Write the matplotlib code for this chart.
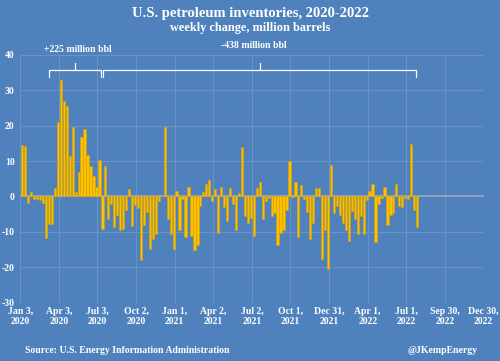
import matplotlib
matplotlib.use('Agg')
import matplotlib.pyplot as plt
import matplotlib.dates as mdates
import pandas as pd

plt.rcParams['axes.unicode_minus'] = False

# weekly change in U.S. petroleum inventories, million barrels (week ending Fridays)
first_week = '2020-01-03'
weekly_change = [
    14.6, 14.3, -1.7, 1.2, -0.7, -0.8, -1.1, -1.9, -11.7, -7.7,
    -7.7, 2.3, 21.0, 32.9, 27.0, 25.4, 11.5, 19.5, 1.2, 6.9,
    16.9, 19.1, 11.7, 8.7, 5.8, 2.8, 10.3, -9.1, 8.7, -6.4,
    -2.2, -8.5, -5.2, -9.5, -9.1, -3.8, 2.1, -8.3, -2.3, -3.1,
    -18.0, -8.0, -4.5, -14.8, -12.0, -10.6, -1.2, 0.0, 19.7, -6.3,
    -10.6, -14.8, 1.6, -9.4, -0.6, -11.5, 2.6, -11.2, -15.2, -13.8,
    -2.8, 1.2, 3.6, 4.6, -1.2, 2.2, -10.2, 2.7, -3.0, -6.8,
    2.4, -2.1, -9.4, 1.1, 13.9, -5.6, -7.5, -6.1, -11.1, 2.3,
    4.2, -6.4, -1.4, -0.3, -5.5, -4.7, -13.6, -10.3, -9.3, -3.7,
    10.0, -0.2, 4.1, -11.4, 3.2, -0.8, -4.3, -12.1, -7.4, 2.3,
    2.4, -17.7, -9.3, -20.3, 8.8, -4.7, -2.7, -5.1, -7.6, -9.5,
    -12.4, -4.2, -6.2, -10.5, -5.5, -10.7, -1.0, 1.5, 3.4, -12.8,
    -2.2, -0.4, 2.7, -7.9, -5.3, -4.6, 3.6, -2.7, -3.0, -0.4,
    -0.6, 14.8, -3.8, -8.7,
]

tick_dates = ['2020-01-03', '2020-04-03', '2020-07-03', '2020-10-02',
              '2021-01-01', '2021-04-02', '2021-07-02', '2021-10-01',
              '2021-12-31', '2022-04-01', '2022-07-01', '2022-09-30',
              '2022-12-30']
tick_labels = ['Jan 3,\n2020', 'Apr 3,\n2020', 'Jul 3,\n2020', 'Oct 2,\n2020',
               'Jan 1,\n2021', 'Apr 2,\n2021', 'Jul 2,\n2021', 'Oct 1,\n2021',
               'Dec 31,\n2021', 'Apr 1,\n2022', 'Jul 1,\n2022', 'Sep 30,\n2022',
               'Dec 30,\n2022']

BG = '#4f81bd'
BAR = '#ffc000'
GRID = '#6d93c6'
FONT = 'Liberation Serif'

weeks = pd.date_range(first_week, periods=len(weekly_change), freq='7D')
xpos = mdates.date2num(weeks) + 4.5

fig = plt.figure(figsize=(5.0, 3.61), dpi=100, facecolor=BG)
ax = fig.add_axes([0.0406, 0.1607, 0.9264, 0.6883])
ax.set_facecolor(BG)

ax.bar(xpos, weekly_change, width=5.3, color=BAR, edgecolor='#d8a300',
       linewidth=0.4, zorder=3)
ax.axhline(0, color='#97a3b3', linewidth=1.4, zorder=2)

ax.set_ylim(-30, 40)
ax.set_yticks(range(-30, 41, 10))
ax.set_xlim(mdates.datestr2num(tick_dates[0]), mdates.datestr2num(tick_dates[-1]))
ax.set_xticks([mdates.datestr2num(d) for d in tick_dates])
ax.set_xticklabels(tick_labels)

ax.grid(True, color=GRID, linewidth=0.7, zorder=0)
for s in ax.spines.values():
    s.set_visible(False)
ax.tick_params(length=0, colors='white', labelsize=7, pad=3)
ax.tick_params(axis='y', pad=4)
for lab in ax.get_xticklabels() + ax.get_yticklabels():
    lab.set_fontfamily(FONT)
    lab.set_fontweight('bold')
    lab.set_linespacing(1.1)

# brackets over the two periods
def bracket(x0, x1, xm, y=35.6, drop=1.9, rise=2.0):
    kw = dict(color='white', linewidth=0.9, clip_on=False, zorder=4,
              solid_capstyle='round')
    x0, x1, xm = (mdates.datestr2num(v) for v in (x0, x1, xm))
    ax.plot([x0, x0, x1, x1], [y - drop, y, y, y - drop], **kw)
    ax.plot([xm, xm], [y, y + rise], **kw)

bracket('2020-03-11', '2020-07-11', '2020-05-10')
bracket('2020-07-15', '2022-07-24', '2021-07-21')

fig.text(0.155, 0.862, '+225 million bbl', ha='center', va='center',
         color='white', fontsize=7, fontweight='bold', family=FONT)
fig.text(0.508, 0.875, '-438 million bbl', ha='center', va='center',
         color='white', fontsize=7, fontweight='bold', family=FONT)

fig.text(0.5, 0.963, 'U.S. petroleum inventories, 2020-2022', ha='center',
         va='center', color='white', fontsize=10.5, fontweight='bold', family=FONT)
fig.text(0.5, 0.922, 'weekly change, million barrels', ha='center',
         va='center', color='white', fontsize=8.8, fontweight='bold', family=FONT)

fig.text(0.05, 0.028, 'Source: U.S. Energy Information Administration',
         ha='left', va='center', color='white', fontsize=7, fontweight='bold',
         family=FONT)
fig.text(0.954, 0.028, '@JKempEnergy', ha='right', va='center',
         color='white', fontsize=7, fontweight='bold', family=FONT)

fig.savefig('out.png', dpi=100, facecolor=BG)
